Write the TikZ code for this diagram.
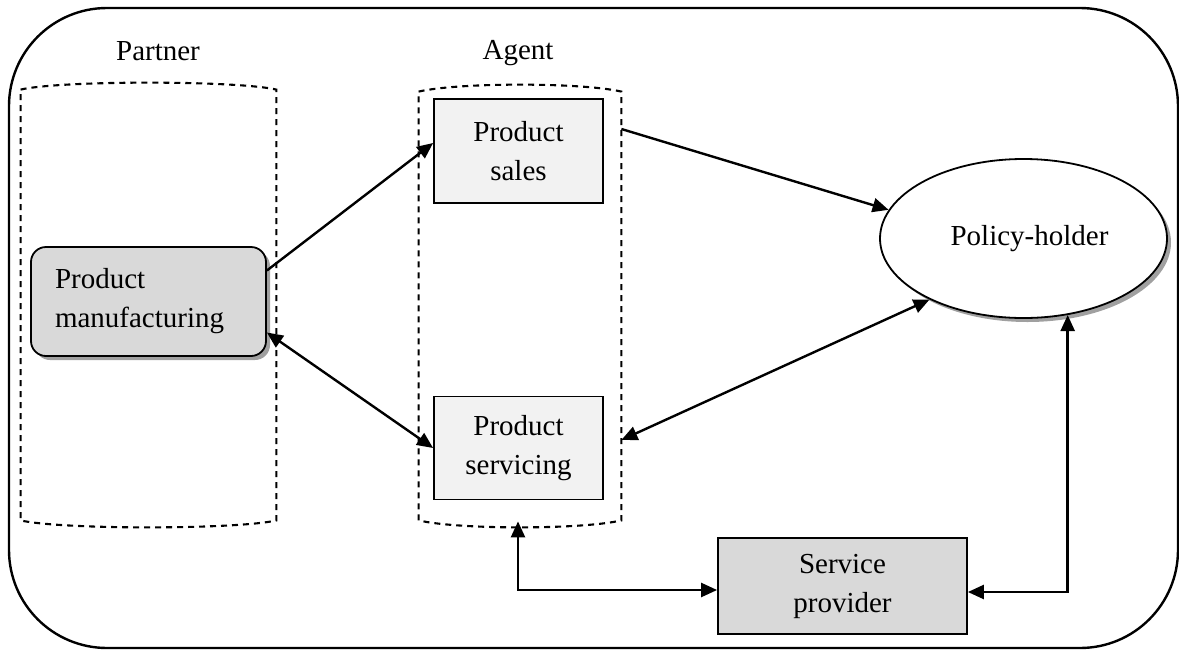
\documentclass[tikz,border=0pt]{standalone}
\usepackage{fontspec}
\setmainfont{Liberation Serif}
\usetikzlibrary{arrows.meta,calc,shapes.geometric,shadows}

\definecolor{lightfill}{HTML}{F2F2F2}
\definecolor{midfill}{HTML}{D9D9D9}
\definecolor{shadowgray}{HTML}{A0A0A0}

% dashed "can" outline drawn around an invisible group node
\newcommand\dashedcan[1]{%
  \draw[groupline] ($(#1.north west)+(0,7)$)
    .. controls ($(#1.north west)+(40,-2.3)$) and ($(#1.north east)+(-40,-2.3)$) .. ($(#1.north east)+(0,7)$)
    -- ($(#1.south east)+(0,-7)$)
    .. controls ($(#1.south east)+(-40,2.3)$) and ($(#1.south west)+(40,2.3)$) .. ($(#1.south west)+(0,-7)$)
    -- cycle;}

\begin{document}
\begin{tikzpicture}[x=0.5pt,y=-0.5pt,
  every node/.style={font=\fontsize{14.5}{19.5}\selectfont},
  frame/.style={draw, line width=1.2pt, rounded corners=49pt},
  group/.style={draw=none, inner sep=0pt},
  groupline/.style={line width=1.05pt, dash pattern=on 3pt off 2.5pt},
  box/.style={draw, line width=0.9pt, align=center, inner sep=0pt},
  lightbox/.style={box, fill=lightfill, minimum width=84.5pt, minimum height=51.5pt},
  midbox/.style={box, fill=midfill},
  shade/.style={drop shadow={shadow xshift=2pt, shadow yshift=-2pt, fill=shadowgray, opacity=1}},
  tip/.tip={Triangle[length=8pt,width=7pt]},
  conn/.style={line width=1.2pt, -tip},
  biconn/.style={line width=1.2pt, tip-tip},
  caption/.style={inner sep=0pt}
]
\useasboundingbox (0,0) rectangle (1179,649);

% outer frame
\draw[frame] (9,8) rectangle (1178,648);

% group areas
\node[group, minimum width=127.5pt, minimum height=222pt] (partner) at (148.5,305) {};
\node[group, minimum width=101pt, minimum height=221pt] (agent) at (520,306) {};
\dashedcan{partner}
\dashedcan{agent}
\node[caption] (partnerlbl) at (158,51) {Partner};
\node[caption] (agentlbl) at (518,53) {Agent};

% actors and activities
\node[midbox, shade, rounded corners=7.5pt, align=left, text width=93.5pt,
      inner xsep=12pt, minimum height=54.5pt] (mfg) at (148.5,301.5)
      {Product\\manufacturing};
\node[lightbox, minimum height=52pt] (sales) at (518.5,151) {Product\\sales};
\node[lightbox] (serv) at (518.5,448) {Product\\servicing};
\node[midbox, minimum width=124.5pt, minimum height=48pt] (sp) at (842.5,586)
      {Service\\provider};
\node[draw, ellipse, line width=0.9pt, fill=white, shade, inner sep=0pt,
      minimum width=143.5pt, minimum height=79.5pt] (ph) at (1023.5,238.5)
      {\hspace*{6pt}Policy-holder};

% flows
\draw[conn] ($(mfg.east)+(0,-31)$) -- ($(sales.west)+(0,-8)$);
\draw[conn] ($(sales.east -| agent.east)+(0,-22)$) -- (ph.168);
\draw[biconn] ($(mfg.east)+(0,31)$) -- (serv.west);
\draw[biconn] (ph.213) -- ($(serv.east -| agent.east)+(0,-8)$);
\draw[biconn] ($(agent.south)+(-2,-6)$) |- ($(sp.west)+(0,4)$);
\draw[biconn] ($(sp.east)+(0,6)$) -| (ph.300);
\end{tikzpicture}
\end{document}
